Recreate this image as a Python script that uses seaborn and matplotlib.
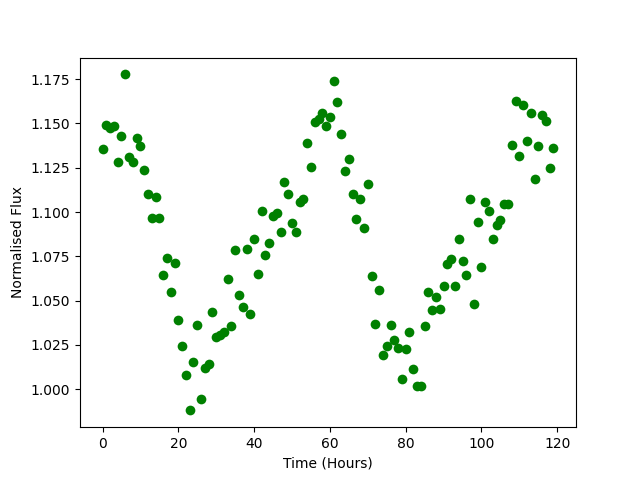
import matplotlib
matplotlib.use("Agg")
import matplotlib.pyplot as plt
import numpy as np
import pandas as pd
import seaborn as sns

# ── Data ───────────────────────────────────────────────────────────────────────
hours = list(range(120))
flux = [
    1.1353, 1.1491, 1.1472, 1.1485, 1.1280, 1.1432, 1.1777, 1.1312, 1.1284, 1.1417,
    1.1370, 1.1240, 1.1100, 1.0964, 1.1084, 1.0964, 1.0642, 1.0740, 1.0546, 1.0711,
    1.0388, 1.0241, 1.0079, 0.9880, 1.0156, 1.0360, 0.9942, 1.0122, 1.0144, 1.0438,
    1.0293, 1.0308, 1.0320, 1.0620, 1.0355, 1.0783, 1.0530, 1.0463, 1.0794, 1.0422,
    1.0845, 1.0649, 1.1005, 1.0755, 1.0824, 1.0977, 1.0994, 1.0890, 1.1169, 1.1099,
    1.0936, 1.0890, 1.1054, 1.1071, 1.1388, 1.1257, 1.1508, 1.1525, 1.1560, 1.1488,
    1.1534, 1.1737, 1.1619, 1.1438, 1.1229, 1.1299, 1.1099, 1.0958, 1.1071, 1.0912,
    1.1156, 1.0636, 1.0370, 1.0557, 1.0190, 1.0241, 1.0360, 1.0276, 1.0230, 1.0060,
    1.0224, 1.0320, 1.0111, 1.0015, 1.0020, 1.0355, 1.0546, 1.0445, 1.0518, 1.0455,
    1.0580, 1.0704, 1.0733, 1.0580, 1.0845, 1.0721, 1.0647, 1.1076, 1.0478, 1.0941,
    1.0687, 1.1059, 1.1003, 1.0845, 1.0924, 1.0954, 1.1048, 1.1048, 1.1376, 1.1624,
    1.1314, 1.1607, 1.1399, 1.1557, 1.1184, 1.1370, 1.1550, 1.1512, 1.1246, 1.1359,
]

df = pd.DataFrame({"hours": hours, "flux": flux})

fig, ax = plt.subplots(figsize=(6.4, 4.8), dpi=100)
sns.scatterplot(data=df, x="hours", y="flux", color="green", s=49,
                linewidth=0, ax=ax)
ax.set_xlabel("Time (Hours)")
ax.set_ylabel("Normalised Flux")
ax.set_xticks([0, 20, 40, 60, 80, 100, 120])
ax.set_yticks(np.arange(1.0, 1.176, 0.025))

fig.savefig("out.png", dpi=100)
